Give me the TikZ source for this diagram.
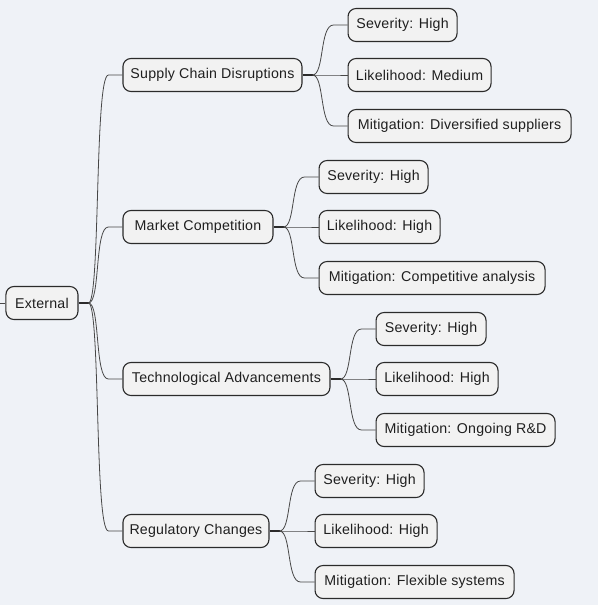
\documentclass[tikz,border=0pt]{standalone}
\usepackage{fontspec}
\setmainfont{Liberation Sans}
\usepackage{tikz}
\usetikzlibrary{calc}
\definecolor{mybg}{HTML}{EFF2F7}
\definecolor{myfill}{HTML}{F2F2F2}
\definecolor{myline}{HTML}{2B2B2B}

\begin{document}
\begin{tikzpicture}[x=1pt,y=-1pt,
	topic/.style={draw=myline, fill=myfill, rounded corners=8pt, line width=1.1pt,
		minimum height=33pt, inner sep=0pt, anchor=west, text=black!88,
		font=\fontsize{14.2}{16}\selectfont\addfontfeatures{LetterSpace=1.5}},
	stub/.style={myline, line width=2pt},
	branch/.style={black!72, line width=0.8pt}]

		% Background and page size
		\fill [mybg] (0,0) rectangle (598,605);

		% The root and its short lead-in
		\node [topic, minimum width=72pt] (ext) at (5,303) {External};
		\coordinate (ext-in) at (0,303);
		\draw [branch] (ext-in) -- (ext.west);
		\coordinate (ext-j) at ($(ext.east)+(10,0)$);
		\draw [stub] (ext.east) -- (ext-j);

		% The four groups of risks
		\foreach \n/\y/\w/\lab in {
		  sc/75/179/{Supply Chain Disruptions},
		  mc/227/150/{Market Competition},
		  ta/379/207/{Technological Advancements},
		  rc/531/146/{Regulatory Changes}} {
		  \node [topic, minimum width=\w pt] (\n) at (122,\y) {\lab};
		  \draw [branch] (ext-j) .. controls ($(ext-j)+(12,0)$) and ($(\n.west)+(-28,0)$) .. ($(\n.west)+(-14,0)$) -- (\n.west);
		  \coordinate (\n-j) at ($(\n.east)+(10,0)$);
		  \draw [stub] (\n.east) -- (\n-j);
		}

		% Severity, likelihood and mitigation of each group
		\foreach \p/\k/\dy/\w/\lab in {
		  sc/s/-50/109/{Severity: High},
		  sc/l/0/143/{Likelihood: Medium},
		  sc/m/51/223/{Mitigation: Diversified suppliers},
		  mc/s/-50/109/{Severity: High},
		  mc/l/0/121/{Likelihood: High},
		  mc/m/51/226/{Mitigation: Competitive analysis},
		  ta/s/-50/110/{Severity: High},
		  ta/l/0/122/{Likelihood: High},
		  ta/m/51/179/{Mitigation: Ongoing R\&D},
		  rc/s/-50/109/{Severity: High},
		  rc/l/0/122/{Likelihood: High},
		  rc/m/51/199/{Mitigation: Flexible systems}} {
		  \node [topic, minimum width=\w pt] (\p-\k) at ($(\p.east)+(45,\dy)$) {\lab};
		  \draw [branch] (\p-j) .. controls ($(\p-j)+(12,0)$) and ($(\p-\k.west)+(-28,0)$) .. ($(\p-\k.west)+(-14,0)$) -- (\p-\k.west);
		}
	\end{tikzpicture}
\end{document}
